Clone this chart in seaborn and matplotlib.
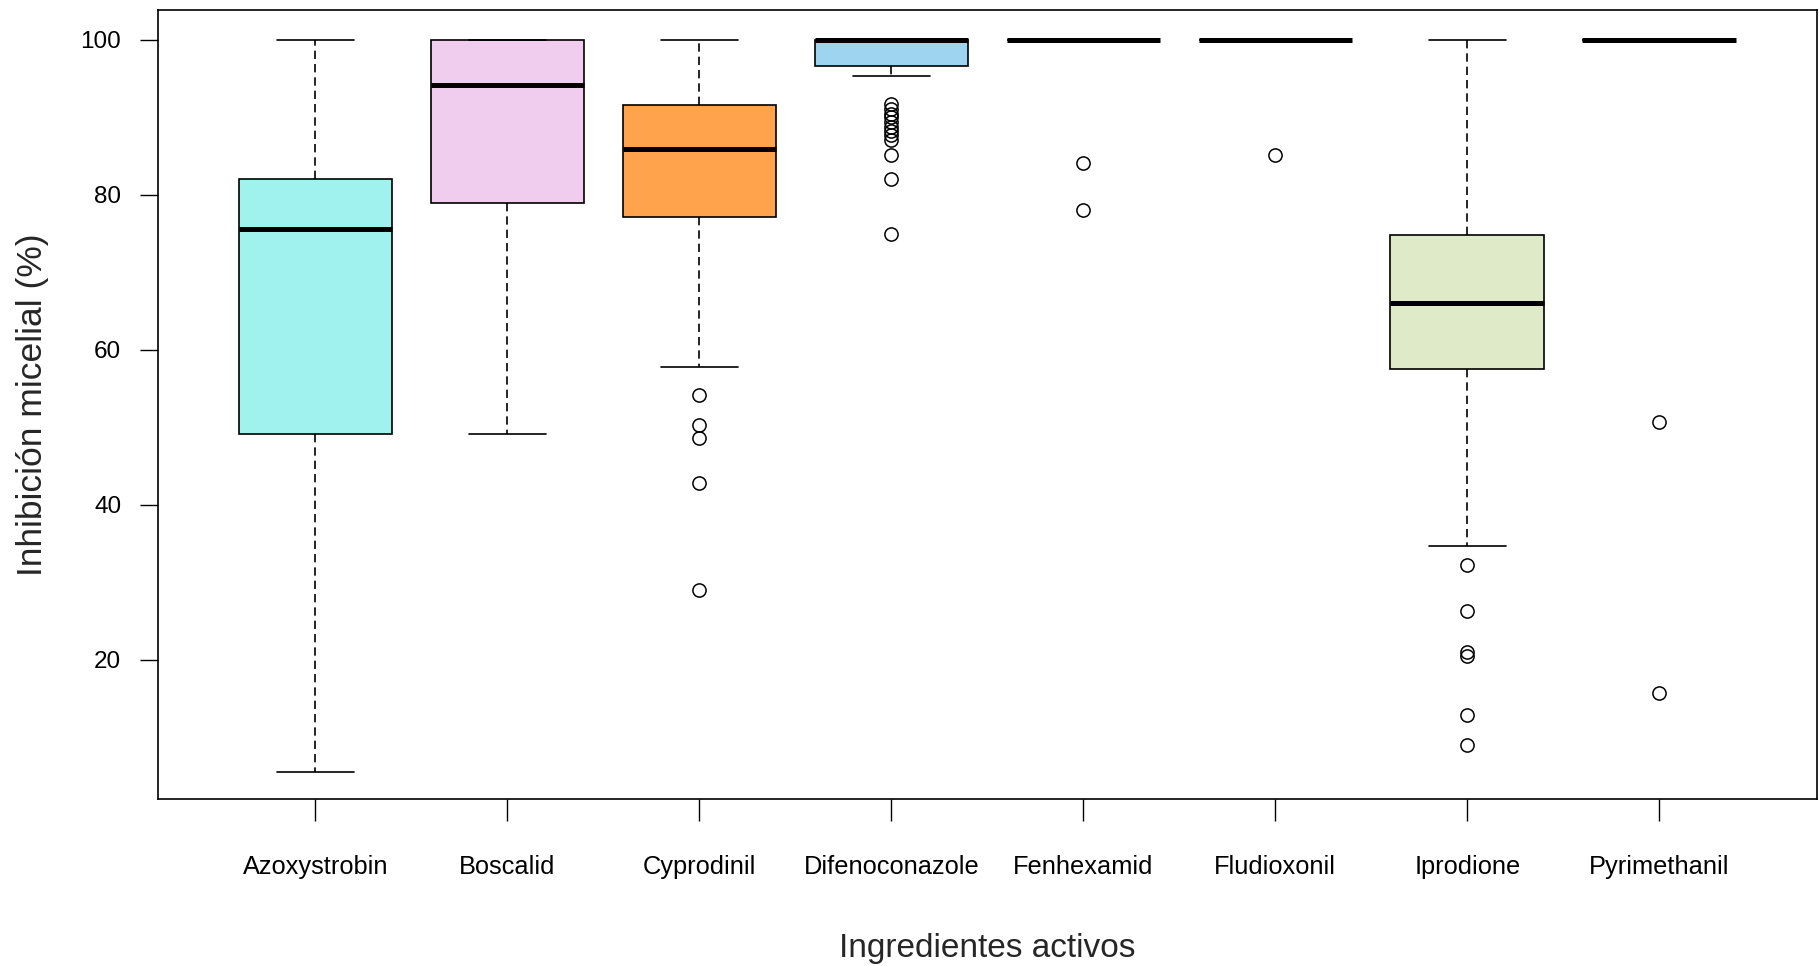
import numpy as np
import pandas as pd
import seaborn as sns
import matplotlib.pyplot as plt

# ---- data ----
categories = ["Azoxystrobin", "Boscalid", "Cyprodinil", "Difenoconazole",
              "Fenhexamid", "Fludioxonil", "Iprodione", "Pyrimethanil"]

azoxystrobin = [5.6, 49.1, 75.6, 82.0, 100.0]
boscalid = [49.1, 78.95, 94.2, 100.0, 100.0]
cyprodinil = [29.0, 42.8, 48.7, 50.3, 54.2, 57.85,
              77.2, 77.2, 77.2, 77.2, 77.2, 77.2,
              85.9, 85.9, 85.9, 85.9, 85.9, 85.9,
              91.6, 91.6, 91.6, 91.6, 91.6, 91.6,
              100.0]
difenoconazole = [74.9, 82.1, 85.2, 87.1, 87.7, 88.2, 88.8, 89.4, 90.0, 90.5, 91.1, 91.7,
                  95.4,
                  96.7, 96.7, 96.7, 96.7, 96.7, 96.7, 96.7, 96.7, 96.7, 96.7, 96.7, 96.7, 96.7,
                  100.0, 100.0, 100.0, 100.0, 100.0, 100.0, 100.0, 100.0, 100.0,
                  100.0, 100.0, 100.0, 100.0, 100.0, 100.0, 100.0, 100.0, 100.0,
                  100.0, 100.0, 100.0, 100.0, 100.0, 100.0, 100.0, 100.0, 100.0]
fenhexamid = [78.0, 84.1, 100.0, 100.0, 100.0, 100.0, 100.0, 100.0, 100.0]
fludioxonil = [85.2, 100.0, 100.0, 100.0, 100.0]
iprodione = [9.0, 12.95, 20.5, 21.0, 26.3, 32.2, 34.7,
             57.6, 57.6, 57.6, 57.6, 57.6, 57.6, 57.6,
             66.1, 66.1, 66.1, 66.1, 66.1, 66.1, 66.1,
             74.8, 74.8, 74.8, 74.8, 74.8, 74.8, 74.8,
             100.0]
pyrimethanil = [15.8, 50.7, 100.0, 100.0, 100.0, 100.0, 100.0, 100.0, 100.0]

box_colors = ["#A0F2EE", "#F0CCEE", "#FFA34D", "#9FD4F0",
              "#F5DEB3", "#FFDAB9", "#DFEBC8", "#D8D8F0"]

series = [azoxystrobin, boscalid, cyprodinil, difenoconazole,
          fenhexamid, fludioxonil, iprodione, pyrimethanil]

rows = []
for cat, vals in zip(categories, series):
    for v in vals:
        rows.append((cat, v))
df = pd.DataFrame(rows, columns=["Ingrediente", "Inhibicion"])

# ---- style ----
sns.set_style("white")
plt.rcParams['font.family'] = ['Liberation Sans', 'DejaVu Sans']

fig = plt.figure(figsize=(18.19, 9.66), dpi=100)
ax = fig.add_axes([0.0869, 0.1726, 0.9118, 0.8171])

sns.boxplot(data=df, x="Ingrediente", y="Inhibicion", hue="Ingrediente",
            order=categories, hue_order=categories,
            palette=dict(zip(categories, box_colors)), saturation=1,
            width=0.8, whis=1.47, linecolor="black", linewidth=1.2,
            fliersize=9.5,
            flierprops=dict(marker="o", markerfacecolor="none",
                            markeredgecolor="black", markeredgewidth=1.1),
            whiskerprops=dict(linestyle=(0, (5, 3))),
            medianprops=dict(linewidth=3.6, solid_capstyle="butt"),
            legend=False, ax=ax)

ax.set_xlim(-0.82, 7.82)
ax.set_ylim(2.03, 103.87)
ax.set_yticks([20, 40, 60, 80, 100])

for s in ax.spines.values():
    s.set_visible(True)
    s.set_color("black")
    s.set_linewidth(1.2)

ax.tick_params(axis="y", direction="out", length=13, width=1.0, pad=13.5,
               labelsize=17.5, colors="black", left=True)
ax.tick_params(axis="x", direction="out", length=16, width=1.0, pad=24,
               labelsize=18.3, colors="black", bottom=True)

ax.set_xlabel("Ingredientes activos", fontsize=24)
ax.set_ylabel("Inhibición micelial (%)", fontsize=25.5)
ax.xaxis.set_label_coords(0.5, -0.169)
ax.yaxis.set_label_coords(-0.066, 0.5)

fig.savefig("out.png", dpi=100)
